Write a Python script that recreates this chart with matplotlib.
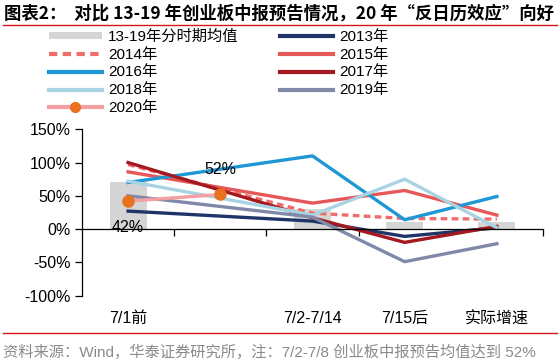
import numpy as np
import matplotlib
matplotlib.use("Agg")
import matplotlib.pyplot as plt
from matplotlib.lines import Line2D
from matplotlib.patches import Patch

plt.rcParams['font.family'] = ['Liberation Sans', 'Noto Sans CJK SC']
plt.rcParams['axes.unicode_minus'] = False

# data
cats = ['7/1前', '', '7/2-7/14', '7/15后', '实际增速']
avg_13_19 = [71, np.nan, 30, 11, 10]
y2013 = [27, np.nan, 12, -11, 2]
y2014 = [97, np.nan, 24, 16, 15]
y2015 = [86, np.nan, 39, 58, 21]
y2016 = [70, np.nan, 110, 14, 49]
y2017 = [100, np.nan, 17, -20, 4]
y2018 = [72, np.nan, 21, 75, 2]
y2019 = [50, np.nan, 18, -49, -22]
y2020 = [42, 52, np.nan, np.nan, np.nan]

fig = plt.figure(figsize=(5.6, 3.64), dpi=100)
ax = fig.add_axes([0.1464, 0.1879, 0.8232, 0.4569])

x = np.arange(len(cats))
ax.bar(x, avg_13_19, width=0.4, color='#d5d5d5', zorder=1)

def conn(vals):
    # connect lines over empty categories, like excel does
    v = np.array(vals, dtype=float)
    m = ~np.isnan(v)
    return x[m], v[m]

lw = 2.4
series = [
    (y2013, '#1f3469', '-'),
    (y2014, '#f26b6b', (0, (2, 1.3))),
    (y2015, '#e65757', '-'),
    (y2016, '#1e98d5', '-'),
    (y2017, '#a3191f', '-'),
    (y2018, '#a8d3e3', '-'),
    (y2019, '#8189a8', '-'),
]
for vals, c, ls in series:
    xs, vs = conn(vals)
    ax.plot(xs, vs, color=c, lw=lw, ls=ls, zorder=2)

xs, vs = conn(y2020)
ax.plot(xs, vs, color='#f4a0a2', lw=lw, zorder=3)
ax.plot(xs, vs, 'o', color='#e8701f', ms=8, zorder=4)
ax.text(0, vs[0] - 39, '42%', ha='center', va='center', fontsize=11.5, zorder=5)
ax.text(1, vs[1] + 37, '52%', ha='center', va='center', fontsize=11.5, zorder=5)

ax.set_xlim(-0.5, 4.5)
ax.set_ylim(-100, 150)
ax.set_yticks([-100, -50, 0, 50, 100, 150])
ax.set_yticklabels([f'{v}%' for v in [-100, -50, 0, 50, 100, 150]], fontsize=11.5)
ax.spines['top'].set_visible(False)
ax.spines['right'].set_visible(False)
ax.spines['bottom'].set_position(('data', 0))
ax.spines['left'].set_linewidth(0.9)
ax.spines['bottom'].set_linewidth(0.9)
ax.set_xticks([0.5, 1.5, 2.5, 4.5])
ax.set_xticklabels([])
ax.tick_params(axis='both', direction='out', length=5, width=0.9, pad=3)

for i, c in enumerate(cats):
    ax.text(i, -135, c, ha='center', va='center', fontsize=11.5, clip_on=False)

# legend
handles = [
    Patch(facecolor='#d5d5d5', edgecolor='none', label='13-19年分时期均值'),
    Line2D([], [], color='#f26b6b', lw=3, ls=(0, (2, 1.3)), label='2014年'),
    Line2D([], [], color='#1e98d5', lw=3, label='2016年'),
    Line2D([], [], color='#a8d3e3', lw=3, label='2018年'),
    Line2D([], [], color='#f4a0a2', lw=3, marker='o', markersize=7,
           markerfacecolor='#e8701f', markeredgecolor='#e8701f', label='2020年'),
    Line2D([], [], color='#1f3469', lw=3, label='2013年'),
    Line2D([], [], color='#e65757', lw=3, label='2015年'),
    Line2D([], [], color='#a3191f', lw=3, label='2017年'),
    Line2D([], [], color='#8189a8', lw=3, label='2019年'),
]
fig.legend(handles=handles, ncol=2, loc='upper left', bbox_to_anchor=(0.073, 0.94),
           frameon=False, fontsize=11, handlelength=3.5, handleheight=0.4,
           handletextpad=0.4, labelspacing=0.25, columnspacing=2.7, borderpad=0)

# title and source
fig.text(0.007, 0.962, '图表2：  对比 13-19 年创业板中报预告情况，20 年“反日历效应”向好',
         ha='left', va='center', fontsize=12.5, fontweight='bold',
         family=['Noto Sans CJK SC'])
fig.add_artist(Line2D([0.005, 0.995], [0.931, 0.931], color='#d7141a', lw=1))
fig.add_artist(Line2D([0.005, 0.995], [0.085, 0.085], color='#d7141a', lw=1))
fig.text(0.006, 0.033, '资料来源：Wind，华泰证券研究所，注：7/2-7/8 创业板中报预告均值达到 52%',
         ha='left', va='center', fontsize=11, color='#8a8a8a')

fig.savefig('out.png', dpi=100)
